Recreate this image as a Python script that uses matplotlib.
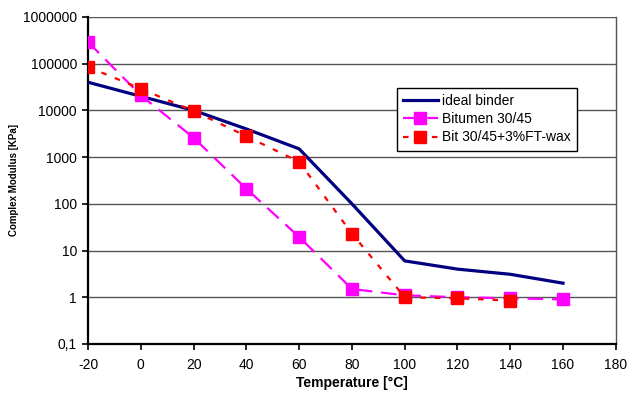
import matplotlib.pyplot as plt
from matplotlib.ticker import FixedLocator, FixedFormatter, NullLocator

plt.rcParams['font.family'] = ['Liberation Sans', 'DejaVu Sans']
plt.rcParams['axes.unicode_minus'] = False

# data
temperature = [-20, 0, 20, 40, 60, 80, 100, 120, 140, 160]
ideal_binder = [40000, 20000, 10000, 4000, 1500, 100, 6, 4, 3.1, 2]
bitumen = [290000, 21000, 2600, 210, 19.5, 1.5, 1.1, 1.0, 0.95, 0.9]
temperature_wax = [-20, 0, 20, 40, 60, 80, 100, 120, 140]
bit_wax = [85000, 29000, 9700, 2800, 790, 23, 1.0, 0.95, 0.85]

y_ticks = [0.1, 1, 10, 100, 1000, 10000, 100000, 1000000]
y_labels = ['0,1', '1', '10', '100', '1000', '10000', '100000', '1000000']
x_ticks = list(range(-20, 181, 20))

fig = plt.figure(figsize=(6.29, 3.94), dpi=100)
ax = fig.add_axes([0.140, 0.127, 0.839, 0.830])

ax.plot(temperature, ideal_binder, color='#000080', linewidth=2.3,
        label='ideal binder', zorder=3)
ax.plot(temperature, bitumen, color='#FF00FF', linewidth=1.6,
        dashes=(7, 4), marker='s', markersize=8.5, label='Bitumen 30/45', zorder=4)
ax.plot(temperature_wax, bit_wax, color='#FF0000', linewidth=1.6,
        dashes=(2.5, 4), marker='s', markersize=8.5, label='Bit 30/45+3%FT-wax', zorder=5)

ax.set_yscale('log')
ax.set_ylim(0.1, 1000000)
ax.set_xlim(-20, 180)
ax.yaxis.set_major_locator(FixedLocator(y_ticks))
ax.yaxis.set_major_formatter(FixedFormatter(y_labels))
ax.yaxis.set_minor_locator(NullLocator())
ax.set_xticks(x_ticks)

ax.grid(True, axis='y', color='#555555', linewidth=1.0)
ax.set_axisbelow(True)

for side in ['left', 'bottom']:
    ax.spines[side].set_linewidth(1.6)
    ax.spines[side].set_color('black')
ax.spines['top'].set_visible(False)
ax.spines['right'].set_color('#555555')
ax.spines['right'].set_linewidth(1.0)

ax.tick_params(axis='both', direction='out', length=4, width=1.2, labelsize=10, pad=4)
ax.tick_params(axis='x', pad=6)

ax.set_xlabel('Temperature [°C]', fontsize=10, fontweight='bold', labelpad=3)
ax.set_ylabel('Complex Modulus [KPa]', fontsize=7, fontweight='bold', labelpad=3)

leg = ax.legend(loc='upper left', bbox_to_anchor=(0.585, 0.783), fontsize=10,
                frameon=True, fancybox=False, framealpha=1, edgecolor='black',
                handlelength=2.5, borderpad=0.45, labelspacing=0.3,
                handletextpad=0.3, borderaxespad=0)
leg.get_frame().set_linewidth(1.0)

plt.savefig('out.png')
